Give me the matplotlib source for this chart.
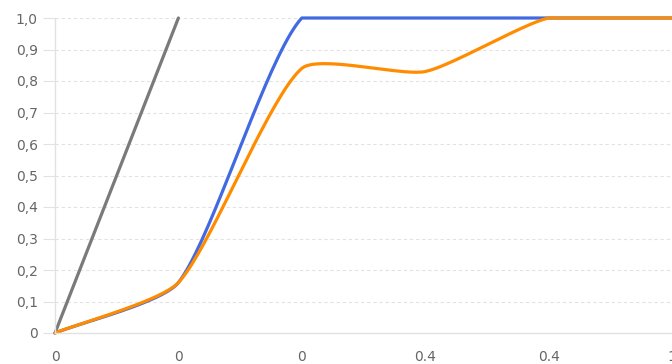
import matplotlib
matplotlib.use('Agg')
import matplotlib.pyplot as plt
import numpy as np

plt.rcParams['font.family'] = ['DejaVu Sans']

LABELS = ['0', '0', '0', '0.4', '0.4', '1']
GRAY_SERIES = [0.0, 1.0]
BLUE_SERIES = [0.0, 0.16, 1.0, 1.0, 1.0, 1.0]
ORANGE_SERIES = [0.0, 0.16, 0.84, 0.83, 1.0, 1.0]
Y_TICKS = [0.0, 0.1, 0.2, 0.3, 0.4, 0.5, 0.6, 0.7, 0.8, 0.9, 1.0]

GRAY, BLUE, ORANGE = '#7a7a7a', '#4169e1', '#ff8c00'
TEXT = '#666666'
GRID = '#e2e2e2'


def spline_path(ax, ys, tension=0.2, steps=40):
    """Chart.js style spline (tension + control points capped to the chart area)."""
    xs = np.arange(len(ys), dtype=float)
    pts = ax.transData.transform(np.column_stack([xs, ys]))
    bb = ax.bbox
    n = len(pts)
    cps = []
    for i in range(n):
        prev = pts[i - 1] if i > 0 else pts[i]
        cur = pts[i]
        nxt = pts[i + 1] if i < n - 1 else pts[i]
        d01 = np.hypot(*(cur - prev))
        d12 = np.hypot(*(nxt - cur))
        tot = d01 + d12
        s01 = d01 / tot if tot else 0
        s12 = d12 / tot if tot else 0
        cp_prev = cur - tension * s01 * (nxt - prev)
        cp_next = cur + tension * s12 * (nxt - prev)
        for cp in (cp_prev, cp_next):
            cp[0] = min(max(cp[0], bb.x0), bb.x1)
            cp[1] = min(max(cp[1], bb.y0), bb.y1)
        cps.append((cp_prev, cp_next))
    out = [pts[0]]
    t = np.linspace(0, 1, steps)[1:, None]
    for i in range(n - 1):
        p0, p3 = pts[i], pts[i + 1]
        p1, p2 = cps[i][1], cps[i + 1][0]
        seg = (1 - t) ** 3 * p0 + 3 * (1 - t) ** 2 * t * p1 + 3 * (1 - t) * t ** 2 * p2 + t ** 3 * p3
        out.extend(seg)
    return ax.transData.inverted().transform(np.array(out))


fig = plt.figure(figsize=(6.72, 3.64), dpi=100)
ax = fig.add_axes([55 / 672, 31 / 364, 1 - 55 / 672, (333 - 18) / 364])
ax.set_xlim(0, 5)
ax.set_ylim(0, 1)

for yv in Y_TICKS[1:]:
    ax.axhline(yv, color=GRID, lw=0.8, ls=(0, (3, 2.5)), zorder=0)

for s in ['top', 'right']:
    ax.spines[s].set_visible(False)
for s in ['left', 'bottom']:
    ax.spines[s].set_color(GRID)
    ax.spines[s].set_linewidth(1)

ax.set_yticks(Y_TICKS)
ax.set_yticklabels(['0' if v == 0 else f'{v:.1f}'.replace('.', ',') for v in Y_TICKS])
ax.set_xticks(range(len(LABELS)))
ax.set_xticklabels(LABELS)
ax.tick_params(axis='y', length=9, width=0.8, color=GRID, pad=3.5, labelsize=10, labelcolor=TEXT)
ax.tick_params(axis='x', length=0, pad=12, labelsize=10, labelcolor=TEXT)

for ys, color in [(GRAY_SERIES, GRAY), (BLUE_SERIES, BLUE), (ORANGE_SERIES, ORANGE)]:
    curve = spline_path(ax, ys)
    ax.plot(curve[:, 0], curve[:, 1], color=color, lw=2.3, clip_on=False,
            solid_capstyle='round', solid_joinstyle='round')

fig.savefig('out.png', dpi=100, facecolor='white')
